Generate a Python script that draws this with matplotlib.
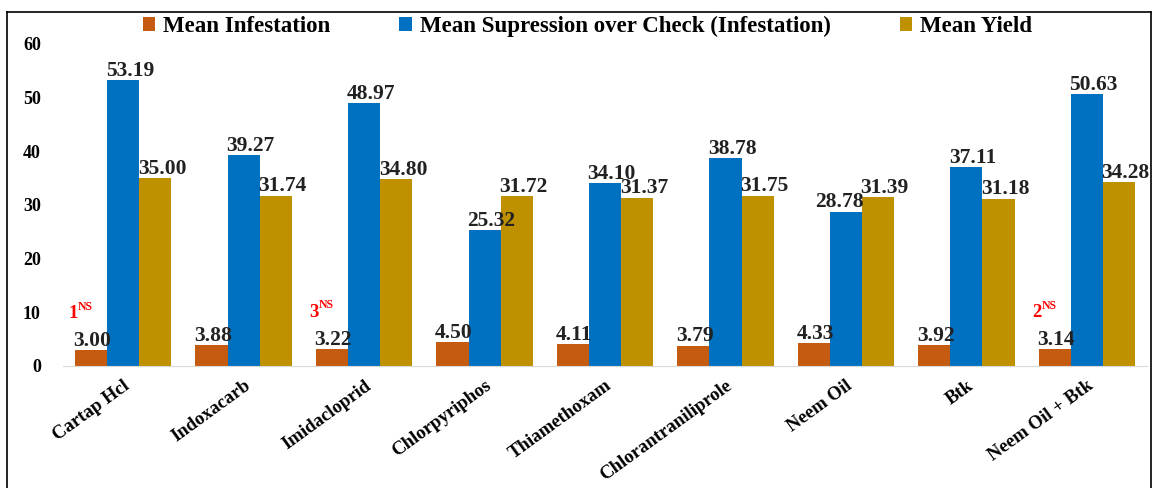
import numpy as np
from matplotlib import pyplot as plt
from matplotlib.lines import Line2D

treatments = ["Cartap Hcl", "Indoxacarb", "Imidacloprid", "Chlorpyriphos", "Thiamethoxam",
              "Chlorantraniliprole", "Neem Oil", "Btk", "Neem Oil + Btk"]
infestation = [3.00, 3.88, 3.22, 4.50, 4.11, 3.79, 4.33, 3.92, 3.14]
suppression = [53.19, 39.27, 48.97, 25.32, 34.10, 38.78, 28.78, 37.11, 50.63]
yield_ = [35.00, 31.74, 34.80, 31.72, 31.37, 31.75, 31.39, 31.18, 34.28]
series_names = ["Mean Infestation", "Mean Supression over Check (Infestation)", "Mean Yield"]
ns_marks = {0: "1", 2: "3", 8: "2"}

colors = ["#C55A11", "#0070C0", "#BF9000"]

plt.rcParams["font.family"] = ["Liberation Serif", "DejaVu Serif"]
plt.rcParams["font.weight"] = "bold"

fig = plt.figure(figsize=(11.52, 4.88), dpi=100)
ax = fig.add_axes([0.0547, 0.25, 0.941, 0.66])

x = np.arange(len(treatments))
w = 0.267
for i, (vals, col) in enumerate(zip([infestation, suppression, yield_], colors)):
    bars = ax.bar(x + (i - 1) * w, vals, w, color=col, label=series_names[i])
    for j, (b, v) in enumerate(zip(bars, vals)):
        # labels sit from the bar's left edge, as in the original;
        # a blue label just under its yellow neighbour is pushed to the left
        crowded = i == 1 and 0 < yield_[j] - v < 5
        if crowded:
            pos, ha, dx = (b.get_x() + b.get_width(), v), "right", 1
        else:
            pos, ha, dx = (b.get_x(), v), "left", -1
        ax.annotate(f"{v:.2f}", pos, xytext=(dx, 3),
                    textcoords="offset points", ha=ha, va="baseline",
                    fontsize=15.5, fontweight="bold", color="#222222")

for idx, num in ns_marks.items():
    xx = x[idx] - w
    ax.annotate(num, (xx, infestation[idx]), xytext=(-13, 23), textcoords="offset points",
                ha="center", va="baseline", fontsize=13.5, fontweight="bold", color="red")
    ax.annotate("NS", (xx, infestation[idx]), xytext=(-9.5, 29), textcoords="offset points",
                ha="left", va="baseline", fontsize=8.5, fontweight="bold", color="red")

ax.set_ylim(0, 60)
ax.set_yticks(range(0, 61, 10))
ax.set_xlim(-0.5, len(treatments) - 0.5)
ax.set_xticks(x)
ax.set_xticklabels(treatments, rotation=36, ha="right", rotation_mode="anchor",
                   fontsize=13.5, fontweight="bold")
ax.tick_params(axis="y", length=0, labelsize=13, pad=16)
ax.tick_params(axis="x", length=0, pad=8)
for s in ["top", "right", "left"]:
    ax.spines[s].set_visible(False)
ax.spines["bottom"].set_color("#D9D9D9")

handles, labels = ax.get_legend_handles_labels()
fig.legend(handles, labels, loc="center", bbox_to_anchor=(0.51, 0.945), ncol=3, frameon=False,
           fontsize=16.5, handlelength=0.55, handleheight=0.55, columnspacing=3.0, handletextpad=0.35)

# outer frame
fr = dict(color="black", linewidth=1.2, transform=fig.transFigure)
fig.add_artist(Line2D([0.006, 0.999], [0.975, 0.975], **fr))
fig.add_artist(Line2D([0.006, 0.006], [0.0, 0.975], **fr))
fig.add_artist(Line2D([0.999, 0.999], [0.0, 0.975], **fr))

fig.savefig("out.png", dpi=100)
